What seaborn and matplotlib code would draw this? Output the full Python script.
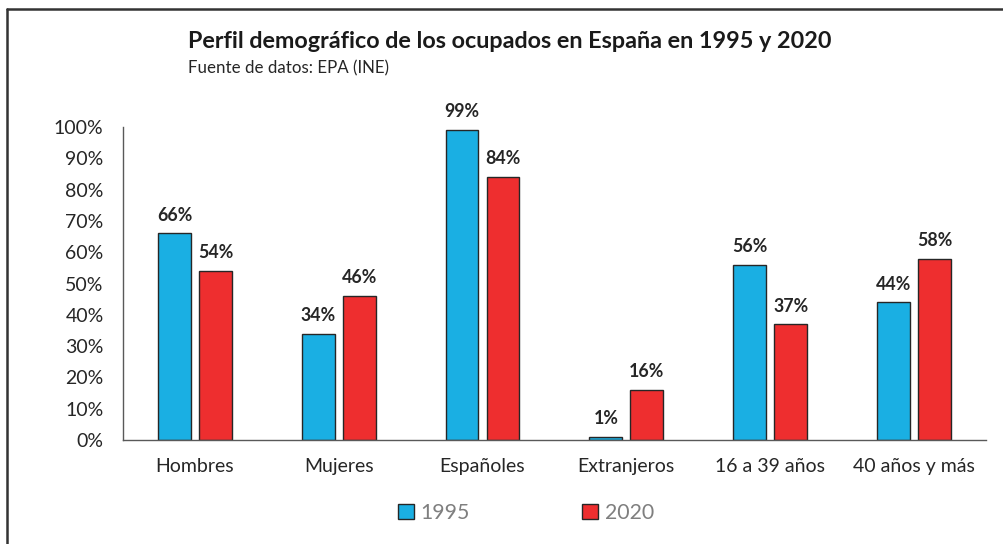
import pandas as pd
import matplotlib.pyplot as plt
import matplotlib.patches as mpatches
import matplotlib.lines as mlines
import seaborn as sns

# data
categorias = ["Hombres", "Mujeres", "Españoles", "Extranjeros", "16 a 39 años", "40 años y más"]
valores_1995 = [0.66, 0.34, 0.99, 0.01, 0.56, 0.44]
valores_2020 = [0.54, 0.46, 0.84, 0.16, 0.37, 0.58]
anios = ["1995", "2020"]
colores = ["#1AAFE3", "#EE2E2F"]

df = pd.DataFrame({
    "categoria": categorias * 2,
    "valor": valores_1995 + valores_2020,
    "anio": [anios[0]] * len(categorias) + [anios[1]] * len(categorias),
})

sns.set_style("white")
plt.rcParams['font.family'] = ['Lato', 'DejaVu Sans']

fig = plt.figure(figsize=(10.04, 5.44), dpi=100)
ax = fig.add_axes([0.1225, 0.191, 0.8595, 0.5755])

sns.barplot(data=df, x="categoria", y="valor", hue="anio", palette=colores,
            saturation=1, width=0.57, gap=0.2, edgecolor="#262626", linewidth=1.0,
            legend=False, ax=ax)

for cont in ax.containers:
    ax.bar_label(cont, labels=[f"{v * 100:.0f}%" for v in cont.datavalues],
                 padding=7, fontsize=12.8, fontweight="bold", color="#262626")

ax.set_ylim(0, 1.0)
ax.set_yticks([i / 10 for i in range(11)])
ax.set_yticklabels([f"{i * 10}%" for i in range(11)])
ax.set_xlim(-0.5, len(categorias) - 0.5)
ax.set_xlabel("")
ax.set_ylabel("")
ax.tick_params(axis="both", labelsize=14, colors="#262626", length=0)
ax.tick_params(axis="x", pad=13)
ax.tick_params(axis="y", pad=14)
for s in ["top", "right"]:
    ax.spines[s].set_visible(False)
for s in ["left", "bottom"]:
    ax.spines[s].set_color("#595959")
    ax.spines[s].set_linewidth(1.0)

# titles
fig.text(0.187, 0.923, "Perfil demográfico de los ocupados en España en 1995 y 2020",
         fontsize=16.8, fontweight="bold", color="#1a1a1a", va="center", ha="left")
fig.text(0.187, 0.875, "Fuente de datos: EPA (INE)", fontsize=12.2,
         color="#262626", va="center", ha="left")

# legend
handles = [mpatches.Patch(facecolor=c, edgecolor="#262626", linewidth=1.0, label=a)
           for c, a in zip(colores, anios)]
leg = fig.legend(handles=handles, loc="center", bbox_to_anchor=(0.524, 0.057), ncol=2,
                 frameon=False, fontsize=15.3, handlelength=0.75, handleheight=0.75,
                 handletextpad=0.3, columnspacing=5.3)
for t in leg.get_texts():
    t.set_color("#7f7f7f")

# outer border (top and left edges only are visible)
fig.lines.append(mlines.Line2D([0.007, 1.0], [0.983, 0.983], transform=fig.transFigure,
                               color="#333333", linewidth=1.8))
fig.lines.append(mlines.Line2D([0.007, 0.007], [0.0, 0.983], transform=fig.transFigure,
                               color="#333333", linewidth=1.8))

fig.savefig("out.png", dpi=100)
